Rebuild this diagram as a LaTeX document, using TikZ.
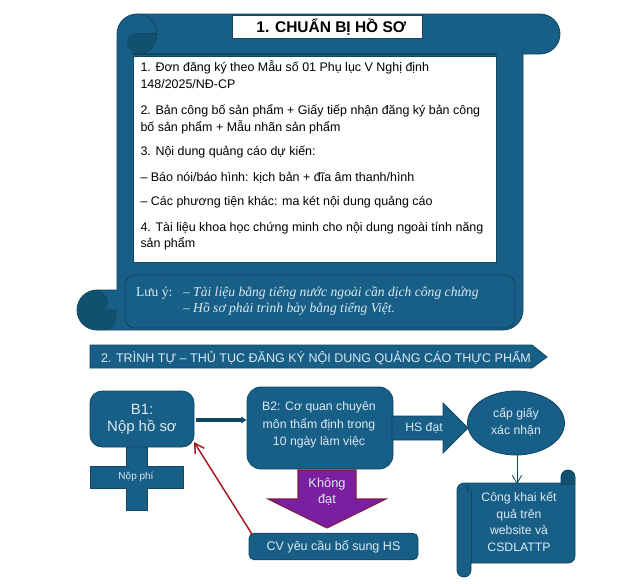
\documentclass[tikz,border=0pt]{standalone}
\usepackage{fontspec}
\setmainfont{Liberation Sans}
\newfontfamily\serifish{Liberation Serif}
\usetikzlibrary{arrows.meta,shapes.geometric}
\definecolor{blu}{HTML}{185F87}
\definecolor{dk}{HTML}{12506F}
\definecolor{edge}{HTML}{0F4660}
\definecolor{pur}{HTML}{7A1FA0}
\definecolor{maroon}{HTML}{7C1E3E}
\definecolor{redl}{HTML}{A3161C}
\definecolor{pale}{HTML}{DCE8F0}
\newcommand{\fs}[1]{\fontsize{#1}{#1}\selectfont}
\tikzset{
  x=0.75pt,y=-0.75pt,
  fill shape/.style={fill=blu,draw=edge,line width=0.6pt},
  curl/.style={fill=dk,draw=none},
  thin edge/.style={draw=edge,line width=0.5pt},
  txt/.style={inner sep=0,outer sep=0,align=center,text=pale},
  doc/.style={inner sep=0,outer sep=0,anchor=base west,text=black,font=\fs{9.35}},
  note/.style={inner sep=0,outer sep=0,anchor=base west,text=pale,font=\serifish\fs{10.2}},
  noteit/.style={note,font=\serifish\itshape\fs{10.2}},
}
\begin{document}
\begin{tikzpicture}
\useasboundingbox (0,0) rectangle (640,583);
% large scroll
\draw[fill shape] (137,14) -- (540,14) arc[start angle=-90,end angle=90,radius=20] -- (523,54) -- (523,310) arc[start angle=0,end angle=90,radius=20] -- (97,330) arc[start angle=90,end angle=270,radius=20] -- (117,290) -- (117,34) arc[start angle=180,end angle=270,radius=20] -- cycle;
\path[curl] (127,43) .. controls (127,37) and (131,33) .. (137,33) -- (157,33) .. controls (157,45) and (150,54) .. (140,54) .. controls (133,54) and (127,49) .. (127,43) -- cycle;
\draw[thin edge] (137,14) arc[start angle=-90,end angle=90,radius=20];
\draw[thin edge] (137,33) -- (157,33);
\draw[edge,line width=0.8pt] (132,54) -- (497,54);
\path[curl] (97,290) arc[start angle=-90,end angle=-270,radius=20] -- (106,330) .. controls (114,330) and (117,322) .. (117,310) -- (102,310) .. controls (110,306) and (110,296) .. (97,290) -- cycle;
\draw[thin edge] (97,290) .. controls (110,296) and (110,306) .. (102,310) -- (117,310);
% white document box
\node[draw=edge,fill=white,line width=0.4pt,inner sep=0,anchor=north west,minimum width=272.25pt,minimum height=154.5pt] (docbox) at (133,56) {};
\node[draw=edge,fill=white,line width=0.4pt,inner sep=0,anchor=north west,minimum width=142.5pt,minimum height=17.5pt,font=\bfseries\fs{11.6},text=black] (title) at (232,15) {\hspace*{6pt}1. CHUẨN BỊ HỒ SƠ};
\node[doc] (l1) at (140.5,71.5) {1. Đơn đăng ký theo Mẫu số 01 Phụ lục V Nghị định};
\node[doc] (l2) at (140.5,88) {148/2025/NĐ-CP};
\node[doc] (l3) at (140.5,114) {2. Bản công bố sản phẩm + Giấy tiếp nhận đăng ký bản công};
\node[doc] (l4) at (140.5,131) {bố sản phẩm + Mẫu nhãn sản phẩm};
\node[doc] (l5) at (140.5,155) {3. Nội dung quảng cáo dự kiến:};
\node[doc] (l6) at (140.5,181) {– Báo nói/báo hình: kịch bản + đĩa âm thanh/hình};
\node[doc] (l7) at (140.5,205) {– Các phương tiện khác: ma két nội dung quảng cáo};
\node[doc] (l8) at (140.5,231) {4. Tài liệu khoa học chứng minh cho nội dung ngoài tính năng};
\node[doc] (l9) at (140.5,247) {sản phẩm};
% note box
\draw[edge,line width=0.7pt,fill=blu,rounded corners=7.5pt] (125,275) rectangle (515,328);
\node[note] (luuy) at (136,296) {Lưu ý:};
\node[noteit] (n1) at (183,296) {– Tài liệu bằng tiếng nước ngoài cần dịch công chứng};
\node[noteit] (n2) at (183,312) {– Hồ sơ phải trình bày bằng tiếng Việt.};
% banner
\draw[fill shape] (90,345) -- (532,345) -- (547,357) -- (532,368) -- (90,368) -- cycle;
\node[txt,anchor=base west,font=\fs{9.4}] (banner) at (101,362) {2. TRÌNH TỰ – THỦ TỤC ĐĂNG KÝ NỘI DUNG QUẢNG CÁO THỰC PHẨM};
% B1 cross (behind)
\draw[fill shape] (126,445) -- (147,445) -- (147,466) -- (183,466) -- (183,488) -- (147,488) -- (147,510) -- (126,510) -- (126,488) -- (90,488) -- (90,466) -- (126,466) -- cycle;
\node[txt,font=\fs{7.5}] (fee) at (136,477) {Nộp phí};
\node[fill shape,rounded corners=9pt,inner sep=0,minimum width=78pt,minimum height=42pt,txt,font=\fs{11.2},align=center] (b1) at (142,419) {B1:\\[1.5pt]Nộp hồ sơ};
% B2
\node[fill shape,rounded corners=10.5pt,inner sep=0,minimum width=109.5pt,minimum height=61.5pt] (b2) at (320,428) {};
\node[txt,font=\fs{9.2},align=center] (b2t) at (319,424.5) {B2: Cơ quan chuyên\\[3.3pt]môn thẩm định trong\\[3.3pt]10 ngày làm việc};
% HS dat arrow
\draw[fill shape] (392,416) -- (443,416) -- (443,403) -- (468,428) -- (443,453) -- (443,440) -- (392,440) -- cycle;
\node[txt,font=\fs{9.2}] (hs) at (424,428) {HS đạt};
% ellipse
\node[fill shape,ellipse,inner sep=0,minimum width=72.75pt,minimum height=48pt] (cap) at (516,423) {};
\node[txt,font=\fs{9.2},align=center] (capt) at (516,422) {cấp giấy\\[3.3pt]xác nhận};
% small scroll
\draw[fill shape] (471,483) -- (561,483) -- (561,477) arc[start angle=180,end angle=360,radius=7] -- (575,556) arc[start angle=0,end angle=90,radius=7] -- (471,563) -- (471,570) arc[start angle=0,end angle=180,radius=7] -- (457,490) arc[start angle=180,end angle=270,radius=7] -- cycle;
\path[curl] (561,477) arc[start angle=180,end angle=360,radius=7] -- (575,484) -- (561,484) -- cycle;
\path[curl] (465,484) arc[start angle=-90,end angle=60,radius=5] -- cycle;
\draw[thin edge] (471,490) -- (471,563);
\draw[thin edge] (561,484) -- (575,484);
\node[txt,font=\fs{9.2},align=center] (pub) at (519,522) {Công khai kết\\[3.3pt]quả trên\\[3.3pt]website và\\[3.3pt]CSDLATTP};
\coordinate (pubtop) at (517,484);
\draw[edge,line width=0.6pt,-{Straight Barb[length=6pt,width=7pt]}] (cap.south) ++(1,0) -- (pubtop);
% purple arrow
\draw[draw=maroon,fill=pur,line width=0.8pt] (298,470) -- (356,470) -- (356,499) -- (386,499) -- (327,528) -- (268,499) -- (298,499) -- cycle;
\node[txt,font=\fs{9.6},align=center] (kd) at (327,492) {Không\\[2.5pt]đạt};
% CV
\node[fill shape,rounded corners=4pt,inner sep=0,minimum width=126.75pt,minimum height=20pt,txt,font=\fs{9.4}] (cv) at (333.5,546.5) {CV yêu cầu bổ sung HS};
% connectors
\draw[edge,line width=2.5pt,-{Latex[length=4pt,width=6pt]}] (b1.east |- 0,420) ++(2,0) -- (b2.west |- 0,420);
\draw[redl,line width=1.1pt,-{Straight Barb[length=7pt,width=8pt]}] (cv.north west) ++(3,1) -- ([yshift=3.75pt]b1.south east);
\end{tikzpicture}
\end{document}
